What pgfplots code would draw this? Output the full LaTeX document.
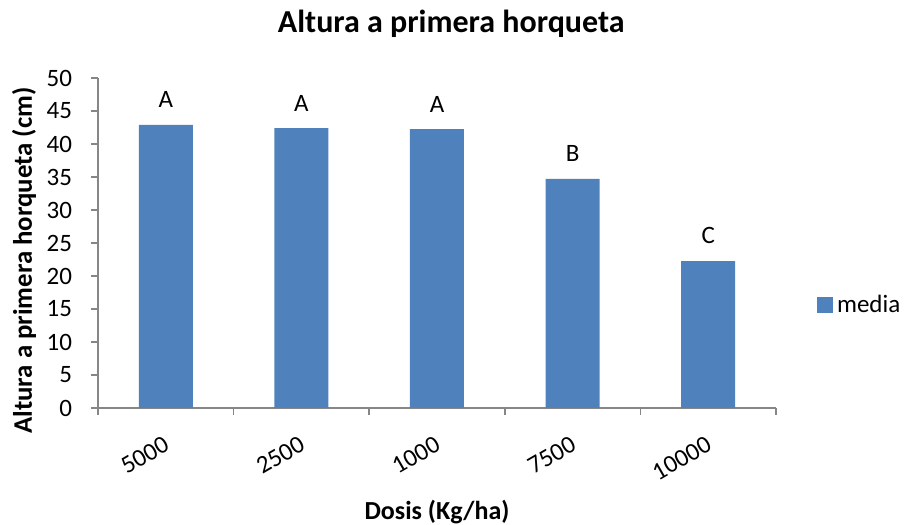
\documentclass[border=0pt]{standalone}
\usepackage{fontspec}
\setmainfont{Carlito}
\usepackage{pgfplots}
\usepackage{pgfplotstable}
\pgfplotsset{compat=1.18}
\definecolor{barblue}{RGB}{79,129,189}
\definecolor{axgray}{RGB}{134,134,134}
\pgfplotstableread{
x y lab
0 42.9 A
1 42.4 A
2 42.25 A
3 34.7 B
4 22.25 C
}\datatable
\begin{document}
\begin{tikzpicture}
\useasboundingbox (0,0) rectangle (453.5pt,262.5pt);
\begin{axis}[
  at={(49pt,58.5pt)}, anchor=south west,
  scale only axis, width=339pt, height=165pt,
  xmin=-0.5, xmax=4.5, ymin=0, ymax=50,
  axis x line=bottom, axis y line=left,
  axis line style={-, axgray, line width=0.8pt},
  tick style={axgray, line width=0.8pt},
  tick align=outside, major tick length=3.5pt,
  ytick={0,5,...,50},
  xtick={-0.5,0.5,1.5,2.5,3.5,4.5},
  xticklabels={5000,2500,1000,7500,10000},
  x tick label as interval,
  /pgf/number format/assume math mode=true,
  ticklabel style={font=\fontsize{12.5}{14}\selectfont},
  yticklabel style={anchor=east, xshift=-6pt},
  xticklabel style={yshift=-12pt, xshift=3.5pt, rotate=30, anchor=east},
  title={Altura a primera horqueta},
  title style={at={(0.521,1.127)}, anchor=center, font=\fontsize{16}{18}\selectfont\bfseries},
  xlabel={Dosis (Kg/ha)},
  xlabel style={at={(0.5,-0.3167)}, anchor=center, font=\fontsize{13}{15}\selectfont\bfseries},
  ylabel={Altura a primera horqueta (cm)},
  ylabel style={at={(-0.109,0.447)}, anchor=center, font=\fontsize{13.4}{15}\selectfont\bfseries},
  ybar, bar width=27pt,
  nodes near coords,
  point meta=explicit symbolic,
  nodes near coords style={anchor=south, yshift=5pt, font=\fontsize{12.5}{14}\selectfont, text=black},
  legend style={at={(1.06,0.312)}, anchor=west, draw=none, fill=none, inner sep=0pt,
    font=\fontsize{12.5}{14}\selectfont},
  legend image code/.code={\fill[barblue] (0pt,-4pt) rectangle (8pt,4pt);},
  clip=false,
]
\addplot[fill=barblue, draw=none] table[x=x, y=y, meta=lab] {\datatable};
\addlegendentry{media}
\end{axis}
\end{tikzpicture}
\end{document}
